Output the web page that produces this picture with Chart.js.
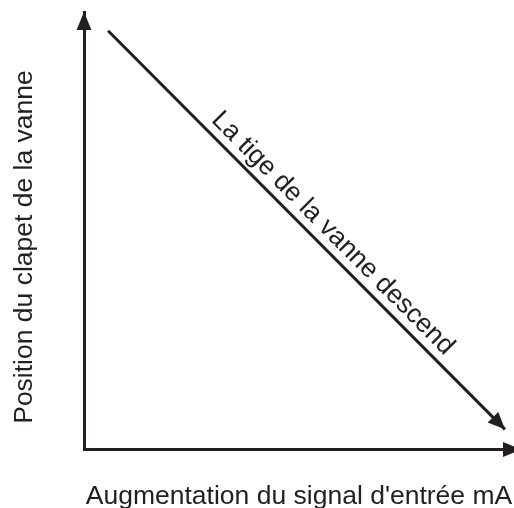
<!DOCTYPE html>
<html>
<head>
<meta charset="utf-8">
<script src="https://cdn.jsdelivr.net/npm/chart.js@4/dist/chart.umd.min.js"></script>
<style>
    html, body { margin: 0; padding: 0; background: #ffffff; }
    #wrap { width: 514px; height: 508px; }
</style>
</head>
<body>
<div id="wrap"><canvas id="valveChart"></canvas></div>
<script>
// Trajectoire de la tige : position du clapet vs signal d'entrée
const signalValues = [5.6, 97.9];
const positionValues = [95.7, 4.6];
const xTitle = "Augmentation du signal d'entrée mA";
const yTitle = 'Position du clapet de la vanne';
const lineLabel = 'La tige de la vanne descend';

const ink = '#231f20';
const fontFamily = '"Liberation Sans", Arial, sans-serif';

function drawHead(ctx, tipX, tipY, angle, length, halfWidth) {
    ctx.save();
    ctx.translate(tipX, tipY);
    ctx.rotate(angle);
    ctx.beginPath();
    ctx.moveTo(0, 0);
    ctx.lineTo(-length, -halfWidth);
    ctx.lineTo(-length, halfWidth);
    ctx.closePath();
    ctx.fillStyle = ink;
    ctx.fill();
    ctx.restore();
}

// Flèches des axes et de la droite, texte le long de la droite, titre vertical
const arrowPlugin = {
    id: 'arrows',
    afterDraw(chart) {
        const ctx = chart.ctx;
        const x = chart.scales.x;
        const y = chart.scales.y;

        drawHead(ctx, x.left, y.top, -Math.PI / 2, 18, 7.5);
        drawHead(ctx, x.right + 7, y.bottom, 0, 18, 7.5);

        const pts = chart.getDatasetMeta(0).data;
        const p0 = pts[0], p1 = pts[pts.length - 1];
        const angle = Math.atan2(p1.y - p0.y, p1.x - p0.x);
        drawHead(ctx, p1.x, p1.y, angle, 17, 7.5);

        const frac = 0.537;
        const cx = p0.x + (p1.x - p0.x) * frac;
        const cy = p0.y + (p1.y - p0.y) * frac;
        ctx.save();
        ctx.translate(cx, cy);
        ctx.rotate(angle);
        ctx.font = '26.5px ' + fontFamily;
        ctx.fillStyle = ink;
        ctx.textAlign = 'center';
        ctx.textBaseline = 'alphabetic';
        ctx.fillText(lineLabel, 0, -9);
        ctx.restore();

        ctx.save();
        ctx.translate(32, 247);
        ctx.rotate(-Math.PI / 2);
        ctx.font = '26.5px ' + fontFamily;
        ctx.fillStyle = ink;
        ctx.textAlign = 'center';
        ctx.textBaseline = 'alphabetic';
        ctx.fillText(yTitle, 0, 0);
        ctx.restore();
    }
};

const ctx = document.getElementById('valveChart').getContext('2d');
new Chart(ctx, {
    type: 'line',
    data: {
        datasets: [{
            data: signalValues.map((v, i) => ({ x: v, y: positionValues[i] })),
            borderColor: ink,
            borderWidth: 3,
            pointRadius: 0,
            fill: false
        }]
    },
    options: {
        responsive: true,
        maintainAspectRatio: false,
        animation: false,
        layout: { padding: { left: 84, top: 12, right: 0, bottom: 0 } },
        plugins: {
            legend: { display: false },
            tooltip: { enabled: false }
        },
        scales: {
            x: {
                type: 'linear',
                min: 0,
                max: 100,
                grid: { display: false, drawTicks: false },
                ticks: { display: false },
                border: { display: true, color: ink, width: 3 },
                title: {
                    display: true,
                    text: xTitle,
                    color: ink,
                    font: { family: fontFamily, size: 26.5, lineHeight: 0.85 },
                    padding: { top: 36, bottom: 0 }
                }
            },
            y: {
                type: 'linear',
                min: 0,
                max: 100,
                grid: { display: false, drawTicks: false },
                ticks: { display: false },
                border: { display: true, color: ink, width: 3 }
            }
        }
    },
    plugins: [arrowPlugin]
});
</script>
</body>
</html>
